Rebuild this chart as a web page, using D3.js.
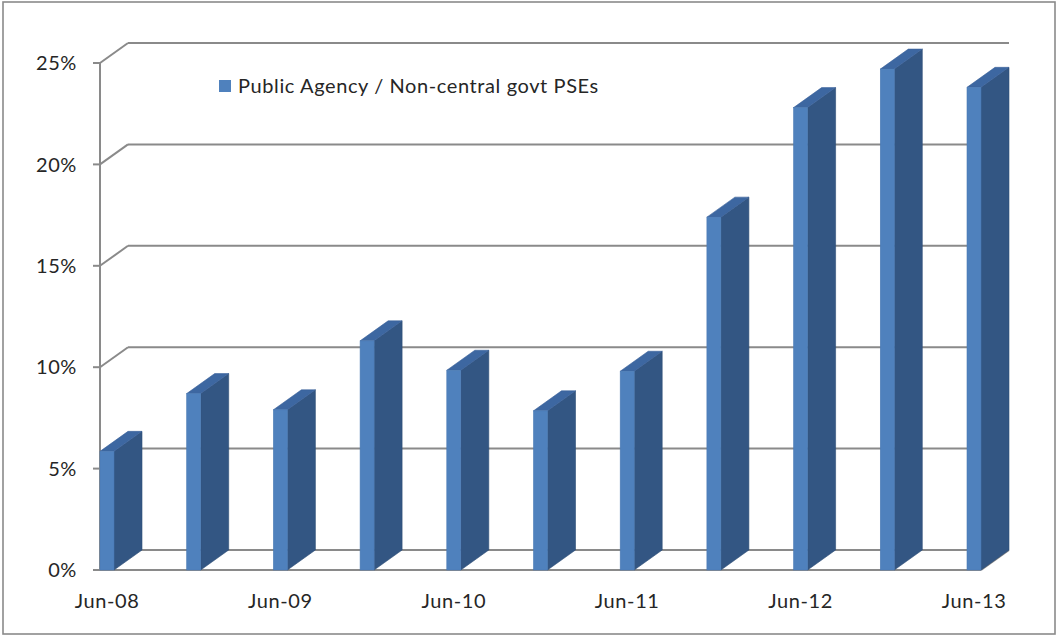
<!DOCTYPE html>
<html>
<head>
<meta charset="utf-8">
<script src="https://cdn.jsdelivr.net/npm/d3@7"></script>
<style>
  html, body { margin: 0; padding: 0; background: #fff; }
  svg { display: block; }
  text { font-family: Lato, "Open Sans", sans-serif; fill: #262626; letter-spacing: 0.6px; }
</style>
</head>
<body>
<svg id="chart" width="1058" height="637"></svg>
<script>
// ---- data ----
const categories = ["Jun-08","Dec-08","Jun-09","Dec-09","Jun-10","Dec-10","Jun-11","Dec-11","Jun-12","Dec-12","Jun-13"];
const values = [5.85, 8.7, 7.9, 11.3, 9.85, 7.85, 9.8, 17.4, 22.8, 24.7, 23.8];
const xLabels = ["Jun-08","","Jun-09","","Jun-10","","Jun-11","","Jun-12","","Jun-13"];
const yTicks = [0, 5, 10, 15, 20, 25];
const seriesName = "Public Agency / Non-central govt PSEs";

// ---- layout ----
const W = 1058, H = 637;
const svg = d3.select("#chart");
const depthX = 28, depthY = -20;
const barW = 14;

const y = d3.scaleLinear().domain([0, 25]).range([570, 63]);
const x = d3.scaleLinear().domain([0, categories.length - 1]).range([100, 967]);
const floorRight = x(categories.length - 1) + barW;

svg.append("rect").attr("width", W).attr("height", H).attr("fill", "#fff");
svg.append("rect").attr("x", 3).attr("y", 2).attr("width", 1052).attr("height", 632)
  .attr("fill", "none").attr("stroke", "#8a8a8a").attr("stroke-width", 1.6);

const grid = svg.append("g").attr("stroke", "#8a8a8a").attr("stroke-width", 2).attr("fill", "none");
// back wall gridlines + left wall diagonals
yTicks.forEach(t => {
  const yy = y(t);
  grid.append("line").attr("x1", x(0) + depthX).attr("x2", floorRight + depthX)
    .attr("y1", yy + depthY).attr("y2", yy + depthY);
  grid.append("line").attr("x1", x(0)).attr("y1", yy)
    .attr("x2", x(0) + depthX).attr("y2", yy + depthY);
  grid.append("line").attr("x1", x(0) - 7).attr("x2", x(0)).attr("y1", yy).attr("y2", yy);
});
// floor front and right edges
grid.append("line").attr("x1", x(0)).attr("x2", floorRight).attr("y1", y(0)).attr("y2", y(0));
grid.append("line").attr("x1", floorRight).attr("y1", y(0))
  .attr("x2", floorRight + depthX).attr("y2", y(0) + depthY);
// vertical axis
grid.append("line").attr("x1", x(0)).attr("x2", x(0)).attr("y1", y(25)).attr("y2", y(0));

// bars
const bars = svg.append("g");
values.forEach((v, i) => {
  const x0 = x(i), x1 = x0 + barW, yt = y(v), yb = y(0);
  const g = bars.append("g");
  // side
  g.append("path").attr("d", d3.line()([[x1, yt], [x1 + depthX, yt + depthY], [x1 + depthX, yb + depthY], [x1, yb]]) + "Z")
    .attr("fill", "#335683").attr("stroke", "#2e4d76").attr("stroke-width", 0.6);
  // top
  g.append("path").attr("d", d3.line()([[x0, yt], [x0 + depthX, yt + depthY], [x1 + depthX, yt + depthY], [x1, yt]]) + "Z")
    .attr("fill", "#3d67a1").attr("stroke", "#3a629a").attr("stroke-width", 0.6);
  // front
  g.append("rect").attr("x", x0).attr("y", yt).attr("width", barW).attr("height", yb - yt)
    .attr("fill", "#4f81bd").attr("stroke", "#4a7ab4").attr("stroke-width", 0.6);
});

// y tick labels
const fs = 20;
svg.append("g").selectAll("text").data(yTicks).join("text")
  .attr("x", 77).attr("y", d => y(d)).attr("dy", "0.36em")
  .attr("text-anchor", "end").attr("font-size", fs)
  .text(d => d + "%");

// x labels
svg.append("g").selectAll("text").data(xLabels).join("text")
  .attr("x", (d, i) => x(i) + barW / 2).attr("y", 601).attr("dy", "0.36em")
  .attr("text-anchor", "middle").attr("font-size", fs)
  .text(d => d);

// legend
svg.append("rect").attr("x", 219).attr("y", 80).attr("width", 12).attr("height", 12).attr("fill", "#4f81bd");
svg.append("text").attr("x", 238).attr("y", 86).attr("dy", "0.36em").attr("font-size", fs).text(seriesName);
</script>
</body>
</html>
